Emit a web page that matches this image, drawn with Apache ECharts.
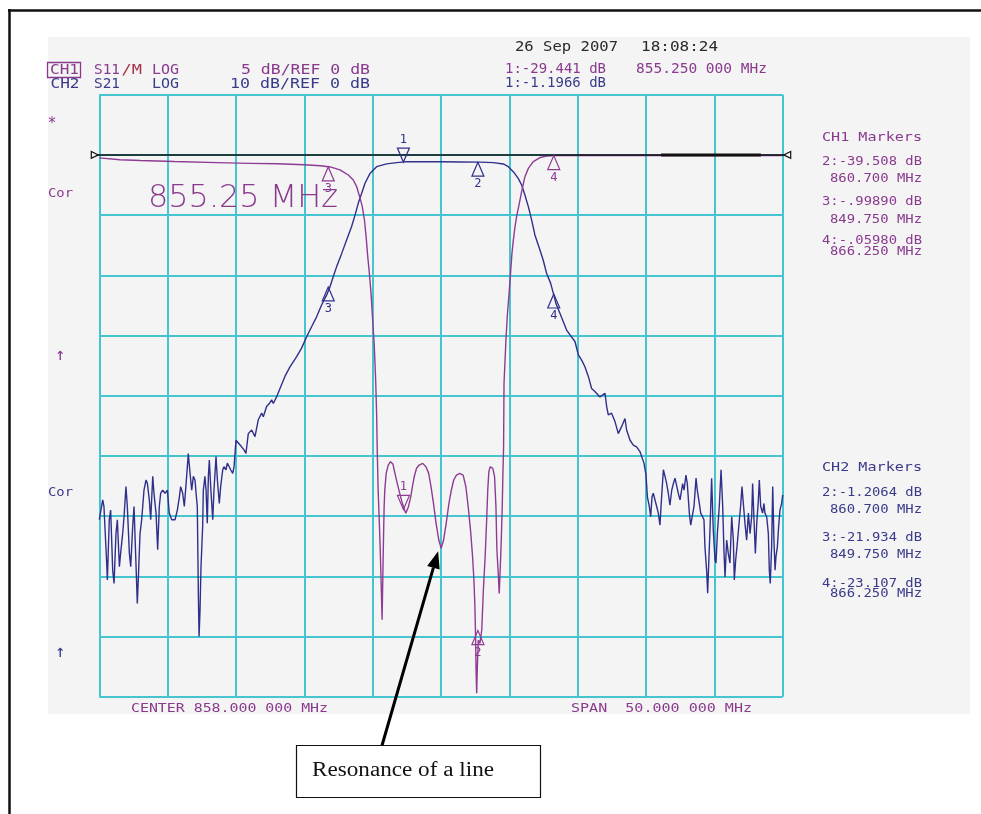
<!DOCTYPE html>
<html><head><meta charset="utf-8">
<script src="https://cdn.jsdelivr.net/npm/echarts@6.0.0/dist/echarts.min.js"></script>
<style>html,body{margin:0;padding:0;background:#fff}#c{width:981px;height:814px}</style>
</head><body><div id="c"></div>
<script>
// ---------------- data ----------------
const CENTER_MHZ = 858.0;
const SPAN_MHZ = 50.0;
const CH1_DB_PER_DIV = 5;
const CH2_DB_PER_DIV = 10;
const REF_DB = 0;

// CH2 : S21 (blue), [MHz, dB]
const s21Trace = [
[833.00,-60.6],[833.25,-57.3],[833.34,-58.4],[833.54,-67.8],[833.59,-70.6],[833.73,-60.6],[833.83,-59.0],[833.98,-69.0],
[834.08,-71.2],[834.22,-62.9],[834.32,-60.6],[834.47,-68.4],[834.56,-66.2],[834.71,-62.9],[834.81,-60.1],[834.95,-55.1],
[835.05,-58.4],[835.20,-66.2],[835.30,-68.4],[835.44,-61.8],[835.54,-58.4],[835.69,-68.4],[835.78,-74.5],[835.86,-70.1],
[835.98,-62.9],[836.10,-60.6],[836.27,-55.7],[836.42,-54.0],[836.52,-54.6],[836.66,-57.3],[836.76,-60.6],[836.91,-53.4],
[837.00,-56.2],[837.15,-59.5],[837.27,-65.6],[837.39,-58.4],[837.49,-56.2],[837.64,-55.7],[837.81,-56.2],[837.98,-55.7],
[838.12,-59.5],[838.30,-60.6],[838.54,-60.6],[838.71,-59.0],[838.86,-56.8],[838.95,-55.1],[839.10,-56.2],[839.22,-58.4],
[839.39,-53.4],[839.51,-49.6],[839.64,-52.9],[839.76,-55.7],[839.88,-53.4],[840.00,-54.0],[840.08,-56.2],[840.17,-58.4],
[840.25,-73.4],[840.30,-80.0],[840.37,-75.6],[840.44,-68.4],[840.56,-61.8],[840.61,-55.7],[840.73,-53.4],[840.81,-55.7],
[840.90,-61.2],[840.98,-53.4],[841.05,-50.7],[841.15,-55.1],[841.30,-60.6],[841.39,-55.7],[841.54,-50.1],[841.64,-54.0],
[841.78,-57.9],[841.88,-55.1],[842.03,-52.3],[842.12,-51.8],[842.27,-52.3],[842.37,-51.2],[842.51,-51.8],[842.61,-52.3],
[842.76,-52.9],[842.86,-51.8],[843.00,-47.4],[843.30,-48.2],[843.59,-49.0],[843.73,-49.6],[843.90,-46.3],[844.15,-45.7],
[844.39,-46.8],[844.63,-44.0],[844.88,-42.9],[845.00,-43.5],[845.24,-41.8],[845.44,-41.3],[845.61,-40.7],[845.73,-41.3],
[845.97,-40.2],[846.22,-38.8],[846.58,-36.8],[846.95,-35.2],[847.44,-33.5],[847.80,-32.1],[848.17,-30.2],[848.54,-28.5],
[848.90,-26.9],[849.27,-24.9],[849.63,-23.3],[849.88,-21.9],[850.12,-20.2],[850.36,-18.6],[850.73,-16.4],[851.10,-14.1],
[851.46,-11.9],[851.71,-10.0],[851.95,-8.0],[852.19,-6.4],[852.44,-4.7],[852.80,-3.1],[853.29,-1.95],[854.02,-1.5],
[854.76,-1.29],[855.36,-1.15],[856.50,-1.15],[858.00,-1.14],[859.50,-1.17],[860.85,-1.2],[861.83,-1.29],[862.56,-1.51],
[862.92,-1.95],[863.29,-2.79],[863.65,-3.89],[863.90,-5.0],[864.14,-6.66],[864.39,-8.6],[864.63,-10.8],[864.87,-13.3],
[865.24,-15.8],[865.48,-17.5],[865.73,-19.7],[866.02,-21.3],[866.22,-23.0],[866.41,-24.7],[866.70,-26.3],[866.95,-27.7],
[867.19,-29.1],[867.44,-29.9],[867.80,-31.0],[868.05,-33.2],[868.29,-34.1],[868.53,-35.2],[868.78,-36.8],[869.02,-38.8],
[869.26,-39.3],[869.63,-40.2],[870.00,-39.6],[870.12,-41.8],[870.24,-43.2],[870.48,-42.9],[870.73,-44.3],[870.97,-46.3],
[871.22,-45.1],[871.46,-43.8],[871.58,-45.7],[871.83,-47.4],[872.07,-48.2],[872.31,-48.5],[872.56,-49.3],[872.85,-51.2],
[873.00,-53.2],[873.10,-56.8],[873.24,-58.4],[873.34,-60.1],[873.44,-56.8],[873.53,-56.2],[873.66,-56.2],[873.78,-58.4],
[873.90,-59.5],[874.02,-61.5],[874.14,-56.8],[874.27,-52.3],[874.39,-53.4],[874.51,-54.6],[874.63,-56.2],[874.75,-58.2],
[874.88,-55.7],[875.00,-54.6],[875.12,-53.7],[875.24,-54.0],[875.36,-56.2],[875.49,-57.3],[875.68,-54.6],[875.78,-55.7],
[875.92,-53.2],[876.02,-54.6],[876.17,-59.5],[876.27,-61.5],[876.41,-61.2],[876.51,-58.4],[876.66,-53.7],[876.75,-55.7],
[876.90,-57.9],[877.00,-59.5],[877.14,-60.1],[877.24,-60.6],[877.31,-65.1],[877.44,-69.2],[877.51,-72.8],[877.58,-68.4],
[877.68,-62.3],[877.80,-53.7],[877.92,-62.3],[878.05,-67.3],[878.12,-67.8],[878.22,-62.9],[878.36,-58.4],[878.49,-52.3],
[878.61,-58.4],[878.70,-65.6],[878.78,-70.1],[878.90,-64.0],[879.02,-66.2],[879.14,-67.8],[879.27,-60.1],[879.39,-64.0],
[879.46,-70.6],[879.56,-67.3],[879.68,-64.5],[879.83,-60.6],[879.92,-58.4],[880.02,-55.1],[880.12,-57.9],[880.24,-61.2],
[880.36,-64.0],[880.49,-59.5],[880.61,-62.9],[880.73,-60.1],[880.80,-54.6],[880.90,-60.6],[881.00,-66.2],[881.10,-61.2],
[881.22,-57.3],[881.29,-54.0],[881.39,-58.4],[881.53,-59.5],[881.63,-57.9],[881.70,-59.5],[881.83,-60.1],[881.95,-62.9],
[882.02,-69.0],[882.09,-71.2],[882.19,-65.1],[882.27,-55.1],[882.36,-64.0],[882.44,-69.0],[882.51,-66.7],[882.61,-65.1],
[882.70,-61.8],[882.80,-59.0],[882.92,-57.9],[883.00,-56.5]
];

// CH1 : S11 (purple), [MHz, dB]
const s11Trace = [
[833.00,-0.25],[834.50,-0.40],[836.00,-0.47],[838.50,-0.55],[841.60,-0.64],[844.00,-0.70],[846.00,-0.74],[848.00,-0.82],
[849.20,-0.90],[849.90,-1.00],[850.61,-1.25],[851.22,-1.67],[851.58,-2.08],[851.83,-2.64],[852.05,-3.47],[852.24,-4.30],
[852.40,-5.41],[852.52,-6.79],[852.64,-8.45],[852.76,-9.84],[852.88,-11.5],[853.00,-13.7],[853.12,-15.9],[853.22,-18.7],
[853.29,-21.5],[853.34,-24.8],[853.40,-27.8],[853.49,-30.6],[853.57,-33.4],[853.64,-36.4],[853.69,-38.6],[853.74,-35.3],
[853.79,-32.0],[853.84,-29.2],[853.89,-27.8],[853.99,-26.45],[854.14,-25.76],[854.31,-25.48],[854.48,-25.67],[854.63,-26.45],
[854.80,-27.28],[854.98,-28.11],[855.17,-28.94],[855.42,-29.77],[855.62,-29.22],[855.79,-28.39],[855.91,-27.56],[856.04,-26.73],
[856.21,-26.03],[856.41,-25.76],[856.66,-25.62],[856.90,-25.90],[857.10,-26.45],[857.27,-27.56],[857.45,-28.94],[857.64,-30.60],
[857.84,-31.99],[858.01,-32.68],[858.19,-31.99],[858.38,-30.60],[858.58,-28.94],[858.76,-27.83],[858.93,-27.00],[859.13,-26.59],
[859.37,-26.45],[859.62,-26.59],[859.82,-27.56],[859.99,-29.22],[860.16,-31.16],[860.31,-33.37],[860.41,-35.31],[860.48,-37.52],
[860.53,-40.02],[860.56,-42.51],[860.61,-44.72],[860.66,-42.51],[860.73,-40.29],[860.85,-40.57],[860.98,-39.46],[861.10,-36.14],
[861.23,-33.37],[861.35,-30.05],[861.42,-27.83],[861.50,-26.31],[861.60,-25.90],[861.79,-26.03],[861.92,-26.73],[862.02,-29.22],
[862.09,-32.82],[862.19,-34.76],[862.26,-36.42],[862.34,-34.20],[862.41,-31.99],[862.48,-29.22],[862.53,-26.45],[862.58,-24.2],
[862.61,-19.0],[862.75,-15.4],[862.85,-13.4],[863.00,-11.2],[863.09,-9.8],[863.19,-8.2],[863.29,-7.1],[863.41,-6.0],
[863.53,-5.13],[863.73,-4.02],[863.90,-3.05],[864.14,-1.81],[864.39,-1.12],[864.75,-0.56],[865.24,-0.22],[865.73,-0.10],
[866.34,-0.06],[868.00,-0.05],[875.00,-0.05],[883.00,-0.05]
];

// markers: [MHz, dB, number, direction]
const ch1Markers = [[855.25,-29.441,'1','down'],[860.70,-39.508,'2','up'],[849.75,-0.9989,'3','up'],[866.25,-0.0598,'4','up']];
const ch2Markers = [[855.25,-1.1966,'1','down'],[860.70,-1.2064,'2','up'],[849.75,-21.934,'3','up'],[866.25,-23.107,'4','up']];
const refThickSpan = [874.1, 881.4];
const resonancePoint = [858.01, -32.68];

// texts
const headerDate = '26 Sep 2007', headerTime = '18:08:24';
const ch1Header = ['CH1','S11','/M','LOG','5 dB/REF 0 dB'];
const ch2Header = ['CH2','S21','LOG','10 dB/REF 0 dB'];
const activeCh1 = '1:-29.441 dB', activeFreq = '855.250 000 MHz', activeCh2 = '1:-1.1966 dB';
const ch1MarkerText = ['CH1 Markers','2:-39.508 dB','860.700 MHz','3:-.99890 dB','849.750 MHz','4:-.05980 dB','866.250 MHz'];
const ch2MarkerText = ['CH2 Markers','2:-1.2064 dB','860.700 MHz','3:-21.934 dB','849.750 MHz','4:-23.107 dB','866.250 MHz'];
const bigFreqText = '855.25 MHz';
const centerText = 'CENTER 858.000 000 MHz', spanText = 'SPAN  50.000 000 MHz';
const noteText = 'Resonance of a line';

// ---------------- styles ----------------
const PURPLE = '#8e3b94', BLUE = '#30308c', PTXT = '#8a3a8e', BTXT = '#3a3a8a', GRIDC = '#46c4d0';
const MONO = '"DejaVu Sans Mono", monospace';
const mctx = document.createElement('canvas').getContext('2d');
let gid = 0;
function fitText(str, x0, x1, yc, size, color, family, weight, z) {
  const font = (weight || 'normal') + ' ' + size + 'px ' + (family || MONO);
  mctx.font = font;
  const w = mctx.measureText(str).width;
  return {type:'text', id:'t'+(gid++), x:x0, y:yc, scaleX:(x1-x0)/w, z:(z || 50),
    style:{text:str, x:0, y:0, fill:color, font:font, textAlign:'left', textVerticalAlign:'middle', align:'left', verticalAlign:'middle'}};
}
function cText(str, xc, yc, size, color) {
  const font = 'normal ' + size + 'px ' + MONO;
  return {type:'text', id:'t'+(gid++), x:xc, y:yc, z:50,
    style:{text:str, x:0, y:0, fill:color, font:font, textAlign:'center', textVerticalAlign:'middle', align:'center', verticalAlign:'middle'}};
}

const graphics = [];
graphics.push({type:'rect', id:'bg', z:-100, shape:{x:48,y:37,width:922,height:677}, style:{fill:'#f4f4f4'}});
graphics.push({type:'line', id:'frT', z:100, shape:{x1:8,y1:10.5,x2:981,y2:10.5}, style:{stroke:'#111',lineWidth:2.5}});
graphics.push({type:'line', id:'frL', z:100, shape:{x1:9.5,y1:9,x2:9.5,y2:814}, style:{stroke:'#111',lineWidth:2.5}});
// header
graphics.push(fitText(headerDate, 515, 618, 47, 14, '#2a2a2a'));
graphics.push(fitText(headerTime, 641, 718, 47, 14, '#2a2a2a'));
graphics.push({type:'rect', id:'chbox', z:50, shape:{x:47.5,y:62.5,width:33,height:15}, style:{fill:'none',stroke:PTXT,lineWidth:1.3}});
graphics.push(fitText(ch1Header[0], 50, 79, 70, 14, PTXT));
graphics.push(fitText(ch1Header[1], 94, 120, 70, 14, PTXT));
graphics.push(fitText(ch1Header[2], 121.5, 142, 70, 14, '#a8324a'));
graphics.push(fitText(ch1Header[3], 152, 179, 70, 14, PTXT));
graphics.push(fitText(ch1Header[4], 241, 370, 70, 14, PTXT));
graphics.push(fitText(ch2Header[0], 50.5, 79.5, 84, 14, BTXT));
graphics.push(fitText(ch2Header[1], 94, 120, 84, 14, BTXT));
graphics.push(fitText(ch2Header[2], 152, 179, 84, 14, BTXT));
graphics.push(fitText(ch2Header[3], 230, 370, 84, 14, BTXT));
graphics.push(fitText(activeCh1, 505, 606, 69, 14, PTXT));
graphics.push(fitText(activeFreq, 636, 767, 69, 14, PTXT));
graphics.push(fitText(activeCh2, 505, 606, 83, 14, BTXT));
// right panels
const ch1Y = [138, 162, 179, 202, 220, 241, 252];
const ch2Y = [468, 493, 510, 538, 555, 584, 594];
ch1MarkerText.forEach((s, i) => graphics.push(fitText(s, (i % 2 === 0 && i > 0) ? 830 : 822, 922, ch1Y[i], 12, PTXT)));
ch2MarkerText.forEach((s, i) => graphics.push(fitText(s, (i % 2 === 0 && i > 0) ? 830 : 822, 922, ch2Y[i], 12, BTXT)));
// left labels
graphics.push(cText('*', 52, 124, 15, PTXT));
graphics.push(fitText('Cor', 48, 73, 194, 13, PTXT));
graphics.push(cText('\u2191', 60, 356, 17, PTXT));
graphics.push(fitText('Cor', 48, 73, 493, 13, BTXT));
graphics.push(cText('\u2191', 60, 653, 17, BTXT));
// big frequency
graphics.push(fitText(bigFreqText, 148, 338, 199, 32, PTXT, '"DejaVu Sans", sans-serif', 200));
// bottom
graphics.push(fitText(centerText, 131, 328, 709, 13, PTXT));
graphics.push(fitText(spanText, 571, 752, 709, 13, PTXT));
// annotation box
graphics.push({type:'rect', id:'nbox', z:60, shape:{x:296.5,y:745.5,width:244,height:52}, style:{fill:'#fff',stroke:'#111',lineWidth:1.2}});
graphics.push(fitText(noteText, 312, 494, 771, 20, '#111', '"Liberation Serif", "Times New Roman", serif', 'normal', 80));

const off = v => v - CENTER_MHZ;

function markerRender(arr, color) {
  return function (params, api) {
    const m = arr[params.dataIndex];
    const p = api.coord([off(m[0]), m[1]]);
    const h = 14, hw = 6;
    let pts, ly;
    if (m[3] === 'down') { pts = [[p[0]-hw, p[1]-h], [p[0]+hw, p[1]-h], [p[0], p[1]]]; ly = p[1] - h - 8; }
    else { pts = [[p[0], p[1]], [p[0]-hw, p[1]+h], [p[0]+hw, p[1]+h]]; ly = p[1] + h + 8; }
    return {type:'group', children:[
      {type:'polygon', shape:{points:pts}, style:{fill:'none', stroke:color, lineWidth:1.2}},
      {type:'text', style:{text:m[2], x:p[0], y:ly, fill:color, font:'normal 12px ' + MONO, textAlign:'center', textVerticalAlign:'middle', align:'center', verticalAlign:'middle'}}
    ]};
  };
}

const option = {
  animation: false,
  backgroundColor: 'transparent',
  grid: {left: 99.3, top: 94.7, width: 683.4, height: 602, containLabel: false, outerBoundsMode: 'none'},
  xAxis: {type:'value', min:-SPAN_MHZ/2, max:SPAN_MHZ/2, interval:SPAN_MHZ/10,
    axisLine:{show:false}, axisTick:{show:false}, axisLabel:{show:false},
    splitLine:{show:true, showMinLine:true, showMaxLine:true, lineStyle:{color:GRIDC, width:2}}},
  yAxis: [
    {type:'value', min:REF_DB - 9*CH1_DB_PER_DIV, max:REF_DB + CH1_DB_PER_DIV, interval:CH1_DB_PER_DIV,
      axisLine:{show:false}, axisTick:{show:false}, axisLabel:{show:false},
      splitLine:{show:true, showMinLine:true, showMaxLine:true, lineStyle:{color:GRIDC, width:2}}},
    {type:'value', min:REF_DB - 9*CH2_DB_PER_DIV, max:REF_DB + CH2_DB_PER_DIV, interval:CH2_DB_PER_DIV,
      axisLine:{show:false}, axisTick:{show:false}, axisLabel:{show:false}, splitLine:{show:false}}
  ],
  graphic: {elements: graphics},
  series: [
    {type:'line', name:'S21', yAxisIndex:1, showSymbol:false, silent:true, z:3,
      lineStyle:{color:BLUE, width:1.4}, data:s21Trace.map(p => [off(p[0]), p[1]])},
    {type:'line', name:'S11', yAxisIndex:0, showSymbol:false, silent:true, z:4,
      lineStyle:{color:PURPLE, width:1.4}, data:s11Trace.map(p => [off(p[0]), p[1]])},
    {type:'custom', name:'ref', yAxisIndex:0, silent:true, z:5, data:[[0, REF_DB]],
      renderItem: function (params, api) {
        const p0 = api.coord([-SPAN_MHZ/2, REF_DB]), p1 = api.coord([SPAN_MHZ/2, REF_DB]);
        const y = p0[1];
        return {type:'group', children:[
          {type:'line', shape:{x1:p0[0]-7, y1:y, x2:p1[0]+7, y2:y}, style:{stroke:'#111', lineWidth:1.5}},
          {type:'polygon', shape:{points:[[p0[0]-8,y-3.5],[p0[0]-8,y+3.5],[p0[0]-1,y]]}, style:{fill:'#f4f4f4', stroke:'#111', lineWidth:1.2}},
          {type:'polygon', shape:{points:[[p1[0]+8,y-3.5],[p1[0]+8,y+3.5],[p1[0]+1,y]]}, style:{fill:'#f4f4f4', stroke:'#111', lineWidth:1.2}}
        ]};
      }},
    {type:'line', name:'refThick', yAxisIndex:0, showSymbol:false, silent:true, z:5,
      lineStyle:{color:'#111', width:3}, data:refThickSpan.map(f => [off(f), REF_DB])},
    {type:'custom', name:'m2', yAxisIndex:1, silent:true, z:6, data:ch2Markers.map(m => [off(m[0]), m[1]]),
      renderItem: markerRender(ch2Markers, BLUE)},
    {type:'custom', name:'m1', yAxisIndex:0, silent:true, z:6, data:ch1Markers.map(m => [off(m[0]), m[1]]),
      renderItem: markerRender(ch1Markers, PURPLE)},
    {type:'custom', name:'note', yAxisIndex:0, silent:true, z:20, data:[[off(resonancePoint[0]), resonancePoint[1]]],
      renderItem: function (params, api) {
        const p = api.coord([off(resonancePoint[0]), resonancePoint[1]]);
        const tip = [p[0]-3, p[1]+3], tail = [382, 745.5];
        const dx = tip[0]-tail[0], dy = tip[1]-tail[1], L = Math.sqrt(dx*dx+dy*dy);
        const ux = dx/L, uy = dy/L, hl = 17, hw = 6.5;
        const bx = tip[0]-ux*hl, by = tip[1]-uy*hl;
        return {type:'group', children:[
          {type:'line', shape:{x1:tail[0], y1:tail[1], x2:bx, y2:by}, style:{stroke:'#000', lineWidth:3}},
          {type:'polygon', shape:{points:[[tip[0],tip[1]],[bx-uy*hw, by+ux*hw],[bx+uy*hw, by-ux*hw]]}, style:{fill:'#000'}}
        ]};
      }}
  ]
};
const chart = echarts.init(document.getElementById('c'), null, {renderer:'canvas'});
chart.setOption(option);
</script></body></html>
